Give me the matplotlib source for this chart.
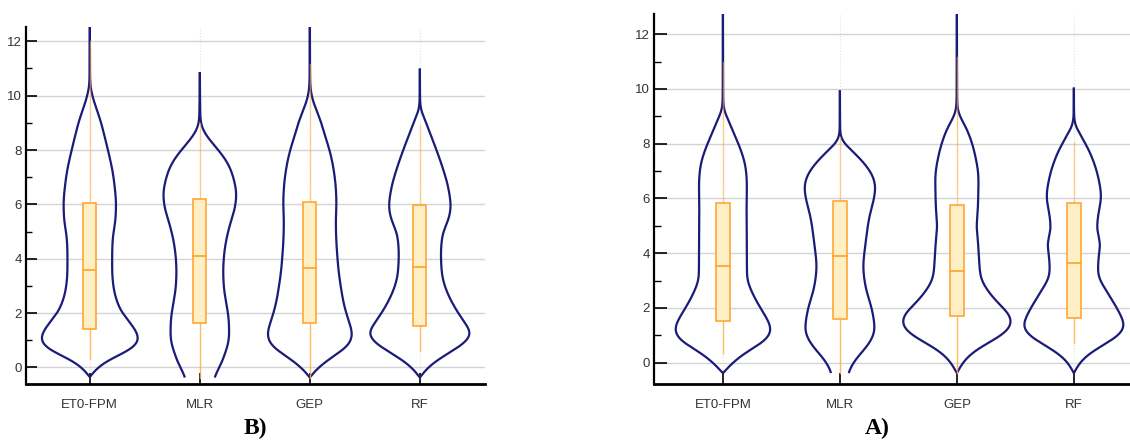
import numpy as np
import matplotlib
matplotlib.use("Agg")
import matplotlib.pyplot as plt

plt.rcParams['font.family'] = ['Liberation Sans Narrow', 'Liberation Sans', 'DejaVu Sans']

models = ["ET0-FPM", "MLR", "GEP", "RF"]

# panel B: violin half widths (category units) at given ET0 levels
b_et0_y = [-0.35, -0.25, -0.12, 0.12, 0.37, 0.61, 0.80, 0.98, 1.23, 1.60, 1.97, 2.33, 2.95, 3.56, 4.18,
           4.79, 5.41, 6.02, 6.63, 7.25, 7.86, 8.48, 9.09, 9.70, 10.13, 10.44, 12.9]
b_et0_w = [0.0, 0.018, 0.042, 0.106, 0.212, 0.358, 0.418, 0.452, 0.436, 0.376, 0.300, 0.255, 0.215, 0.203, 0.203,
           0.209, 0.233, 0.239, 0.227, 0.206, 0.173, 0.136, 0.097, 0.045, 0.015, 0.003, 0.0]
b_mlr_y = [-0.37, 0.0, 0.49, 1.11, 1.72, 2.33, 2.95, 3.56, 4.18, 4.79, 5.41, 5.90, 6.39, 6.88, 7.37, 7.86,
           8.35, 8.72, 9.03, 10.87]
b_mlr_w = [0.124, 0.179, 0.227, 0.267, 0.264, 0.242, 0.218, 0.212, 0.221, 0.245, 0.285, 0.321, 0.333, 0.312,
           0.273, 0.197, 0.094, 0.030, 0.006, 0.0]
b_gep_y = [-0.37, -0.25, -0.06, 0.25, 0.49, 0.86, 1.23, 1.72, 2.33, 2.95, 3.56, 4.18, 4.79, 5.41, 6.02, 6.63,
           7.25, 7.86, 8.48, 9.09, 9.58, 10.07, 10.44, 12.9]
b_gep_w = [0.0, 0.021, 0.061, 0.155, 0.242, 0.364, 0.388, 0.352, 0.309, 0.282, 0.261, 0.248, 0.239, 0.236,
           0.242, 0.236, 0.218, 0.188, 0.142, 0.097, 0.048, 0.012, 0.003, 0.0]
b_rf_y = [-0.37, -0.12, 0.18, 0.49, 0.86, 1.23, 1.72, 2.33, 2.95, 3.44, 4.18, 4.91, 5.41, 5.90, 6.63, 7.25,
          7.86, 8.48, 9.09, 9.40, 9.58, 11.0]
b_rf_w = [0.0, 0.045, 0.124, 0.245, 0.394, 0.470, 0.394, 0.300, 0.230, 0.200, 0.191, 0.206, 0.258, 0.282,
          0.258, 0.215, 0.164, 0.106, 0.048, 0.015, 0.003, 0.0]

b_q1 = [1.43, 1.62, 1.65, 1.54]
b_med = [3.60, 4.10, 3.66, 3.71]
b_q3 = [6.04, 6.20, 6.07, 5.96]
b_wlo = [0.31, -0.5, -0.5, 0.61]
b_whi = [12.0, 9.0, 11.18, 8.91]

# panel A
a_et0_y = [-0.38, -0.16, 0.15, 0.45, 0.82, 1.18, 1.43, 1.91, 2.52, 3.13, 4.35, 5.57, 6.54, 7.15, 7.76,
           8.37, 8.86, 9.22, 9.34, 12.9]
a_et0_w = [0.0, 0.046, 0.123, 0.222, 0.368, 0.416, 0.399, 0.333, 0.254, 0.205, 0.205, 0.202, 0.205, 0.194,
           0.154, 0.094, 0.046, 0.009, 0.003, 0.0]
a_mlr_y = [-0.38, 0.09, 0.69, 1.18, 1.91, 2.77, 3.50, 4.35, 5.32, 5.93, 6.42, 6.79, 7.27, 7.76, 8.13, 8.25, 9.95]
a_mlr_w = [0.066, 0.128, 0.248, 0.299, 0.276, 0.219, 0.199, 0.219, 0.251, 0.288, 0.305, 0.285, 0.211, 0.100,
           0.011, 0.003, 0.0]
a_gep_y = [-0.38, -0.04, 0.33, 0.69, 1.06, 1.43, 1.67, 2.16, 2.64, 3.13, 4.35, 4.96, 5.57, 6.79, 7.40, 8.0,
           8.61, 9.10, 9.34, 12.9]
a_gep_w = [0.0, 0.043, 0.120, 0.251, 0.405, 0.470, 0.462, 0.356, 0.262, 0.202, 0.182, 0.168, 0.179, 0.185,
           0.165, 0.131, 0.077, 0.014, 0.003, 0.0]
a_rf_y = [-0.38, -0.10, 0.21, 0.57, 0.94, 1.30, 1.91, 2.64, 3.25, 3.86, 4.35, 4.84, 5.32, 6.06, 6.79, 7.64,
          8.25, 8.67, 8.80, 10.05]
a_rf_w = [0.0, 0.034, 0.094, 0.219, 0.368, 0.436, 0.379, 0.276, 0.205, 0.211, 0.228, 0.197, 0.205, 0.234,
          0.208, 0.142, 0.066, 0.011, 0.003, 0.0]

a_q1 = [1.54, 1.60, 1.71, 1.64]
a_med = [3.53, 3.89, 3.35, 3.65]
a_q3 = [5.84, 5.90, 5.75, 5.84]
a_wlo = [0.37, -0.5, -0.5, 0.73]
a_whi = [10.99, 8.25, 11.17, 8.07]

OUTLINE = '#1b1b78'
BOX_FACE = '#ffefc6'
BOX_EDGE = '#ffa733'
WHISK = '#ffb04a'


def smooth(ys, ws, n=1000, sigma=0.2):
    # monotone cubic (pchip) through the profile knots, then a light gaussian pass
    x = np.asarray(ys, float)
    y = np.asarray(ws, float)
    h = np.diff(x)
    d = np.diff(y) / h
    m = np.zeros_like(y)
    m[0], m[-1] = d[0], d[-1]
    for k in range(1, len(x) - 1):
        if d[k - 1] * d[k] > 0:
            w1 = 2 * h[k] + h[k - 1]
            w2 = h[k] + 2 * h[k - 1]
            m[k] = (w1 + w2) / (w1 / d[k - 1] + w2 / d[k])
    xn = np.linspace(x[0], x[-1], n)
    idx = np.clip(np.searchsorted(x, xn) - 1, 0, len(x) - 2)
    t = (xn - x[idx]) / h[idx]
    h00 = 2 * t ** 3 - 3 * t ** 2 + 1
    h10 = t ** 3 - 2 * t ** 2 + t
    h01 = -2 * t ** 3 + 3 * t ** 2
    h11 = t ** 3 - t ** 2
    yn = h00 * y[idx] + h10 * h[idx] * m[idx] + h01 * y[idx + 1] + h11 * h[idx] * m[idx + 1]

    step = xn[1] - xn[0]
    half = int(3 * sigma / step)
    k = np.exp(-0.5 * (np.arange(-half, half + 1) * step / sigma) ** 2)
    k /= k.sum()
    if y[0] == 0:
        # odd mirror keeps the closed bottom tip at zero
        lo = -yn[half:0:-1]
    else:
        lo = np.full(half, yn[0])
    padded = np.concatenate([lo, yn, np.full(half, yn[-1])])
    ys_s = np.convolve(padded, k, mode='valid')
    return xn, np.clip(ys_s, 0, None)


def draw_panel(ax, profiles, q1, med, q3, wlo, whi, ylim, xlim, minor_len, major_len):
    for i, (ys, ws) in enumerate(profiles):
        y, w = smooth(ys, ws)
        ax.plot(i - w, y, color=OUTLINE, lw=1.6, zorder=3, solid_capstyle='butt')
        ax.plot(i + w, y, color=OUTLINE, lw=1.6, zorder=3, solid_capstyle='butt')
        ax.plot([i, i], [max(wlo[i], ys[0]), q1[i]], color=WHISK, lw=1.0, alpha=0.85, zorder=4)
        ax.plot([i, i], [q3[i], whi[i]], color=WHISK, lw=1.0, alpha=0.6, zorder=4)
        bw = 0.058
        ax.add_patch(plt.Rectangle((i - bw, q1[i]), 2 * bw, q3[i] - q1[i], facecolor=BOX_FACE,
                                   edgecolor=BOX_EDGE, lw=1.2, zorder=5))
        ax.plot([i - bw, i + bw], [med[i], med[i]], color=BOX_EDGE, lw=1.3, zorder=6)

    ax.set_xlim(*xlim)
    ax.set_ylim(*ylim)
    ax.set_xticks(range(len(models)))
    ax.set_xticklabels(models)
    ax.set_yticks(range(0, 13, 2))
    ax.set_yticks(range(1, 13, 2), minor=True)
    ax.tick_params(axis='y', which='major', direction='in', length=major_len, width=1.2,
                   labelsize=9.5, labelcolor='#333333', pad=3)
    ax.tick_params(axis='y', which='minor', direction='in', length=minor_len, width=1.0)
    ax.tick_params(axis='x', direction='in', length=8, width=1.2, labelsize=9.5,
                   labelcolor='#333333', pad=11)
    ax.grid(axis='y', which='major', color='#d4d4d4', lw=1.0, zorder=0)
    ax.grid(axis='x', color='#e2e2e2', lw=0.8, ls=':', zorder=0)
    ax.set_axisbelow(True)
    for s in ['top', 'right']:
        ax.spines[s].set_visible(False)
    ax.spines['bottom'].set_linewidth(2.0)
    ax.spines['left'].set_linewidth(1.6)


fig = plt.figure(figsize=(11.3, 4.44), dpi=100)

axB = fig.add_axes([0.023, 0.135, 0.406, 0.805])
draw_panel(axB,
           [(b_et0_y, b_et0_w), (b_mlr_y, b_mlr_w), (b_gep_y, b_gep_w), (b_rf_y, b_rf_w)],
           b_q1, b_med, b_q3, b_wlo, b_whi,
           ylim=(-0.61, 12.54), xlim=(-0.58, 3.59), minor_len=4, major_len=8)

axA = fig.add_axes([0.579, 0.135, 0.421, 0.833])
draw_panel(axA,
           [(a_et0_y, a_et0_w), (a_mlr_y, a_mlr_w), (a_gep_y, a_gep_w), (a_rf_y, a_rf_w)],
           a_q1, a_med, a_q3, a_wlo, a_whi,
           ylim=(-0.78, 12.73), xlim=(-0.587, 3.48), minor_len=5, major_len=9)

fig.text(255 / 1130, 1 - 428 / 444, 'B)', family='Liberation Serif', weight='bold',
         fontsize=17, ha='center', va='center')
fig.text(877 / 1130, 1 - 428 / 444, 'A)', family='Liberation Serif', weight='bold',
         fontsize=17, ha='center', va='center')

fig.savefig('out.png', dpi=100)
